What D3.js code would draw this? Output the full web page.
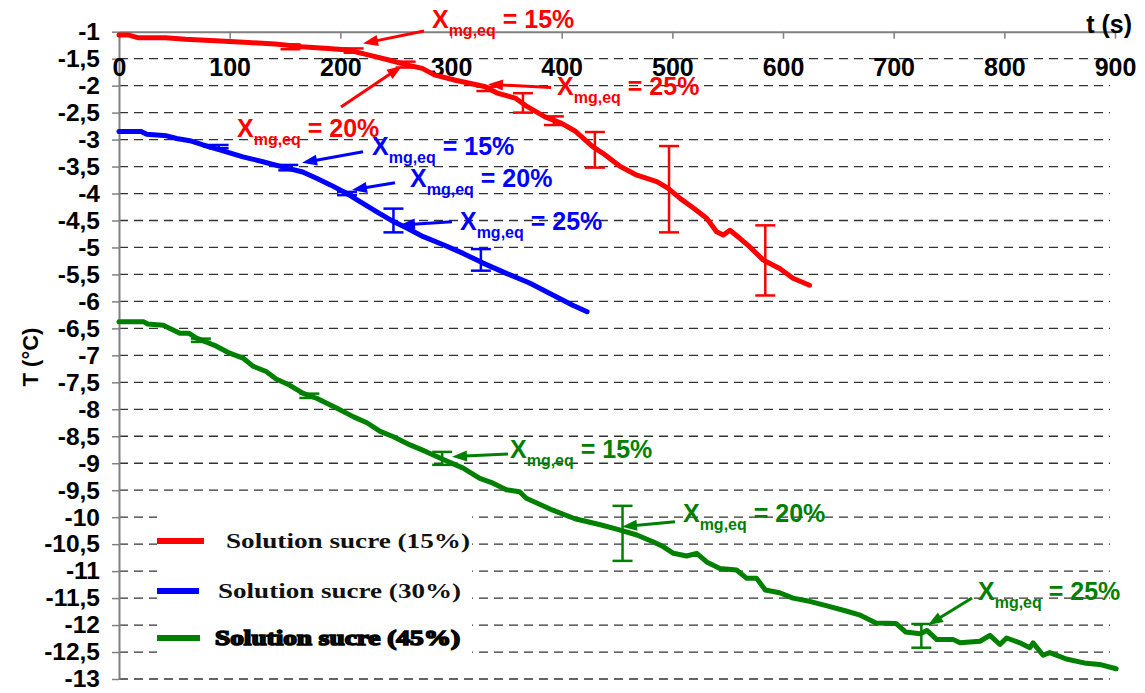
<!DOCTYPE html>
<html lang="fr">
<head>
<meta charset="UTF-8">
<script src="https://d3js.org/d3.v7.min.js"></script>
<title>T(t) solutions sucre</title>
<style>
  body { margin: 0; background: #fff; }
  text { font-family: "Liberation Sans", Arial, sans-serif; font-weight: bold; }
  text.leg { font-family: "Liberation Serif", "DejaVu Serif", serif; }
</style>
</head>
<body>
<script>
var width = 1145;
var height = 693;

// axes
var xTicks = [0, 100, 200, 300, 400, 500, 600, 700, 800, 900];
var yTicks = [-1, -1.5, -2, -2.5, -3, -3.5, -4, -4.5, -5, -5.5, -6, -6.5, -7, -7.5, -8, -8.5, -9, -9.5, -10, -10.5, -11, -11.5, -12, -12.5, -13];

// Solution sucre (15%)
var time15 = [0, 8, 17, 42, 60, 87, 117, 141, 165, 189, 207, 225, 243, 261, 274, 285, 304, 322, 331, 342, 358, 369, 385, 400, 412, 428, 437, 453, 468, 486, 496, 507, 519, 531, 540, 546, 552, 561, 570, 582, 597, 609, 624];
var temp15 = [-1.06, -1.06, -1.11, -1.11, -1.14, -1.17, -1.20, -1.23, -1.28, -1.31, -1.34, -1.43, -1.52, -1.62, -1.68, -1.80, -1.90, -1.98, -2.02, -2.14, -2.23, -2.39, -2.58, -2.70, -2.84, -3.13, -3.25, -3.50, -3.66, -3.78, -3.90, -4.09, -4.27, -4.46, -4.71, -4.77, -4.68, -4.83, -4.99, -5.23, -5.39, -5.57, -5.70];
var errTime15 = [155, 212, 259, 332, 365, 393, 430, 497, 584];
var errMid15 = [-1.28, -1.35, -1.61, -2.06, -2.32, -2.65, -3.19, -3.92, -5.24];
var errHalf15 = [0.045, 0.04, 0.055, 0.04, 0.18, 0.08, 0.33, 0.80, 0.65];

// Solution sucre (30%)
var time30 = [0, 20, 25, 43, 52, 64, 76, 91, 112, 130, 152, 166, 179, 191, 206, 220, 233, 248, 260, 275, 293, 311, 329, 350, 371, 392, 410, 423];
var temp30 = [-2.85, -2.85, -2.90, -2.93, -2.98, -3.02, -3.10, -3.19, -3.32, -3.41, -3.53, -3.60, -3.72, -3.84, -4.00, -4.18, -4.34, -4.52, -4.64, -4.80, -4.95, -5.11, -5.29, -5.48, -5.66, -5.88, -6.07, -6.19];
var errTime30 = [90, 153, 206, 248, 327];
var errMid30 = [-3.13, -3.52, -4.0, -4.50, -5.23];
var errHalf30 = [0.03, 0.05, 0.03, 0.22, 0.2];

// Solution sucre (45%)
var time45 = [0, 22, 26, 40, 55, 63, 70, 82, 88, 100, 112, 121, 133, 142, 154, 166, 179, 197, 212, 224, 236, 248, 263, 278, 293, 311, 326, 338, 350, 362, 368, 392, 412, 435, 453, 468, 483, 492, 501, 513, 522, 531, 543, 558, 567, 576, 584, 597, 609, 624, 639, 657, 669, 684, 702, 711, 724, 730, 739, 754, 760, 778, 787, 796, 802, 814, 823, 826, 835, 841, 856, 874, 886, 901];
var temp45 = [-6.375, -6.375, -6.42, -6.44, -6.59, -6.59, -6.68, -6.78, -6.83, -6.96, -7.05, -7.20, -7.30, -7.44, -7.55, -7.70, -7.80, -7.98, -8.14, -8.25, -8.41, -8.51, -8.66, -8.79, -8.93, -9.09, -9.28, -9.37, -9.49, -9.53, -9.65, -9.87, -10.03, -10.14, -10.24, -10.33, -10.46, -10.55, -10.67, -10.72, -10.67, -10.83, -10.95, -10.98, -11.13, -11.13, -11.35, -11.40, -11.50, -11.56, -11.64, -11.74, -11.81, -11.96, -11.97, -12.13, -12.16, -12.10, -12.27, -12.27, -12.33, -12.30, -12.19, -12.36, -12.24, -12.33, -12.42, -12.33, -12.56, -12.51, -12.63, -12.71, -12.73, -12.81];
var errTime45 = [74, 172, 292, 455, 725];
var errMid45 = [-6.72, -7.75, -8.91, -10.30, -12.20];
var errHalf45 = [0.03, 0.04, 0.12, 0.51, 0.22];

// annotations X mg,eq : label anchor, arrow tail, arrow tip (t, T)
var annLabels = ["= 15%", "= 20%", "= 25%"];
var ann15 = [[282.8, -0.931, 275.6, -0.987, 220.5, -1.219], [106.6, -2.952, 200.6, -2.396, 255.7, -1.636], [395.8, -2.174, 390.4, -2.034, 333.4, -1.975]];
var ann30 = [[228.6, -3.286, 220.5, -3.225, 165.4, -3.429], [263.0, -3.879, 249.4, -3.799, 210.5, -3.935], [308.1, -4.676, 300.9, -4.522, 253.9, -4.584]];
var ann45 = [[353.3, -8.903, 351.5, -8.829, 300.9, -8.879], [509.6, -10.084, 502.4, -10.084, 454.5, -10.177], [776.2, -11.536, 770.8, -11.499, 731.0, -12.0]];

var legendNames = ["Solution sucre (15%)", "Solution sucre (30%)", "Solution sucre (45%)"];

var series = [
  { t: time15, T: temp15, et: errTime15, em: errMid15, eh: errHalf15, ann: ann15, color: "#ff0000" },
  { t: time30, T: temp30, et: errTime30, em: errMid30, eh: errHalf30, ann: ann30, color: "#0000ff" },
  { t: time45, T: temp45, et: errTime45, em: errMid45, eh: errHalf45, ann: ann45, color: "#008000" }
];

var x = d3.scaleLinear().domain([0, 900]).range([119, 1115]);
var y = d3.scaleLinear().domain([-1, -13]).range([31.7, 679]);

var svg = d3.select("body").append("svg")
  .attr("width", width)
  .attr("height", height);

function fmt(v) { return String(v).replace(".", ","); }

// grid
svg.append("g")
  .selectAll("line")
  .data(yTicks.slice(1))
  .enter().append("line")
  .attr("x1", x(0)).attr("x2", 1110)
  .attr("y1", function (d) { return y(d); })
  .attr("y2", function (d) { return y(d); })
  .attr("stroke", "#333")
  .attr("stroke-width", 1.3)
  .attr("stroke-dasharray", "9,6");

// y axis
var yAxis = svg.append("g")
  .attr("transform", "translate(" + x(0) + ",0)")
  .call(d3.axisLeft(y).tickValues(yTicks).tickFormat(fmt).tickSize(7).tickPadding(12).tickSizeOuter(0));
yAxis.select(".domain").attr("stroke", "#808080").attr("stroke-width", 2);
yAxis.selectAll(".tick line").attr("stroke", "#808080").attr("stroke-width", 1.5);
yAxis.selectAll(".tick text").attr("font-size", 24.5).attr("fill", "#000");

// x axis (at top, labels below)
var xAxis = svg.append("g")
  .attr("transform", "translate(0," + y(-1) + ")")
  .call(d3.axisBottom(x).tickValues(xTicks).tickSize(7).tickPadding(20).tickSizeOuter(0));
xAxis.select(".domain").attr("stroke", "#808080").attr("stroke-width", 2);
xAxis.selectAll(".tick line").attr("stroke", "#808080").attr("stroke-width", 1.5);
xAxis.selectAll(".tick text").attr("font-size", 25).attr("fill", "#000");

svg.append("text")
  .attr("x", 1132).attr("y", 33)
  .attr("text-anchor", "end")
  .attr("font-size", 25)
  .text("t (s)");

svg.append("text")
  .attr("transform", "translate(38,357) rotate(-90)")
  .attr("text-anchor", "middle")
  .attr("font-size", 22)
  .text("T (°C)");

// legend
var legend = svg.append("g");
legend.append("rect")
  .attr("x", 157).attr("y", 505).attr("width", 315).attr("height", 160)
  .attr("fill", "#fff");
var legY = [541, 591, 638];
var legX1 = [204, 199, 200];
var legTx = [226, 218, 215];
var legTw = [244, 243, 245];
series.forEach(function (s, i) {
  legend.append("line")
    .attr("x1", 157).attr("x2", legX1[i])
    .attr("y1", legY[i]).attr("y2", legY[i])
    .attr("stroke", s.color).attr("stroke-width", 6);
  legend.append("text")
    .attr("class", "leg")
    .attr("x", legTx[i]).attr("y", legY[i] + 7)
    .attr("textLength", legTw[i])
    .attr("lengthAdjust", "spacingAndGlyphs")
    .attr("font-size", 21)
    .attr("fill", "#111")
    .attr("stroke", i === 2 ? "#000" : "none")
    .attr("stroke-width", i === 2 ? 1.6 : 0)
    .text(legendNames[i]);
});

// series lines
var line = d3.line()
  .x(function (d) { return x(d[0]); })
  .y(function (d) { return y(d[1]); });

series.forEach(function (s) {
  var pts = s.t.map(function (t, i) { return [t, s.T[i]]; });
  svg.append("path")
    .datum(pts)
    .attr("fill", "none")
    .attr("stroke", s.color)
    .attr("stroke-width", 5)
    .attr("stroke-linejoin", "round")
    .attr("stroke-linecap", "round")
    .attr("d", line);

  // error bars
  var eb = svg.append("g").attr("stroke", s.color).attr("stroke-width", 2.5);
  s.et.forEach(function (t, i) {
    var cx = x(t), y1 = y(s.em[i] + s.eh[i]), y2 = y(s.em[i] - s.eh[i]);
    eb.append("line").attr("x1", cx).attr("x2", cx).attr("y1", y1).attr("y2", y2);
    eb.append("line").attr("x1", cx - 10).attr("x2", cx + 10).attr("y1", y1).attr("y2", y1);
    eb.append("line").attr("x1", cx - 10).attr("x2", cx + 10).attr("y1", y2).attr("y2", y2);
  });

  // annotations
  s.ann.forEach(function (a, i) {
    var tx = x(a[2]), ty = y(a[3]), hx = x(a[4]), hy = y(a[5]);
    var ang = Math.atan2(hy - ty, hx - tx);
    var L = 15, W = 5.5;
    var bx = hx - L * Math.cos(ang), by = hy - L * Math.sin(ang);
    svg.append("line")
      .attr("x1", tx).attr("y1", ty)
      .attr("x2", bx + 2 * Math.cos(ang)).attr("y2", by + 2 * Math.sin(ang))
      .attr("stroke", s.color).attr("stroke-width", 3);
    svg.append("path")
      .attr("d", "M" + hx + "," + hy +
        "L" + (bx - W * Math.sin(ang)) + "," + (by + W * Math.cos(ang)) +
        "L" + (bx + W * Math.sin(ang)) + "," + (by - W * Math.cos(ang)) + "Z")
      .attr("fill", s.color);

    var lab = svg.append("text")
      .attr("x", x(a[0])).attr("y", y(a[1]))
      .attr("fill", s.color)
      .attr("font-size", 25);
    lab.append("tspan").text("X");
    lab.append("tspan").attr("font-size", 16).attr("dy", 8).text("mg,eq");
    lab.append("tspan").attr("dy", -8).text(" " + annLabels[i]);
  });
});
</script>
</body>
</html>
